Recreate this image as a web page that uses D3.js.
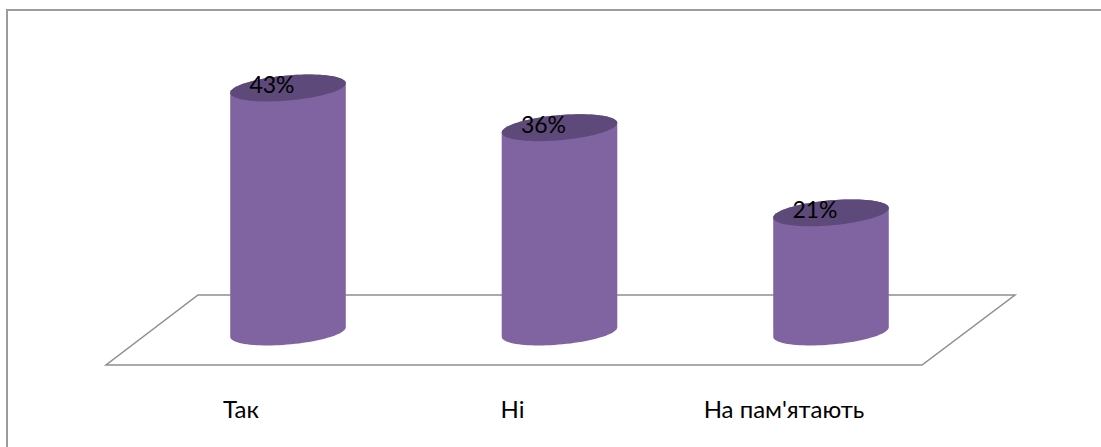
<!DOCTYPE html>
<html>
<head>
<meta charset="utf-8">
<script src="https://cdn.jsdelivr.net/npm/d3@7"></script>
<style>
  html, body { margin: 0; padding: 0; background: #fff; }
  svg { display: block; }
</style>
</head>
<body>
<svg id="chart" width="1101" height="447"></svg>
<script>
// Survey answers and their shares (%)
const categories = ["Так", "Ні", "На пам'ятають"];
const values = [43, 36, 21];
const valueLabels = ["43%", "36%", "21%"];

const svg = d3.select("#chart");
const W = 1101, H = 447;

// Outer frame (runs off the right and bottom edges)
svg.append("rect")
  .attr("x", 7).attr("y", 10)
  .attr("width", W + 20).attr("height", H + 20)
  .attr("fill", "none")
  .attr("stroke", "#9c9c9c")
  .attr("stroke-width", 2);

// Scales
const x = d3.scalePoint().domain(categories).range([288, 831]);
const y = d3.scaleLinear().domain([0, 43]).range([332, 88]);

// Floor parallelogram
const floor = [[198, 295], [1015, 295], [922, 365], [106, 365]];
svg.append("path")
  .attr("d", d3.line()(floor) + "Z")
  .attr("fill", "none")
  .attr("stroke", "#8e8e8e")
  .attr("stroke-width", 1.5);

// Cylinder geometry
const rx = 58, ry = 12.5, tilt = -5 * Math.PI / 180;
function ellipsePts(cx, cy, n = 90) {
  const pts = [];
  for (let i = 0; i < n; i++) {
    const t = 2 * Math.PI * i / n;
    const ex = rx * Math.cos(t), ey = ry * Math.sin(t);
    pts.push([cx + ex * Math.cos(tilt) - ey * Math.sin(tilt),
              cy + ex * Math.sin(tilt) + ey * Math.cos(tilt)]);
  }
  return pts;
}

const bars = svg.append("g").selectAll("g")
  .data(categories.map((c, i) => ({ c, v: values[i], label: valueLabels[i] })))
  .join("g");

// Body: hull of the base and top ellipses
bars.append("path")
  .attr("d", d => {
    const cx = x(d.c);
    const hull = d3.polygonHull(ellipsePts(cx, y(0)).concat(ellipsePts(cx, y(d.v))));
    return d3.line()(hull) + "Z";
  })
  .attr("fill", "#8064a2");

// Top cap
bars.append("path")
  .attr("d", d => d3.line()(ellipsePts(x(d.c), y(d.v))) + "Z")
  .attr("fill", "#5e4a7a");

// Value labels
bars.append("text")
  .attr("x", d => x(d.c) - 16)
  .attr("y", d => y(d.v) + 5)
  .attr("text-anchor", "middle")
  .attr("font-family", "Lato, sans-serif")
  .attr("font-size", 23)
  .attr("fill", "#000")
  .text(d => d.label);

// Category labels along the front edge
svg.append("g").selectAll("text")
  .data(categories)
  .join("text")
  .attr("x", d => x(d) - 47)
  .attr("y", 418)
  .attr("text-anchor", "middle")
  .attr("font-family", "Lato, sans-serif")
  .attr("font-size", 24)
  .attr("fill", "#000")
  .text(d => d);
</script>
</body>
</html>
